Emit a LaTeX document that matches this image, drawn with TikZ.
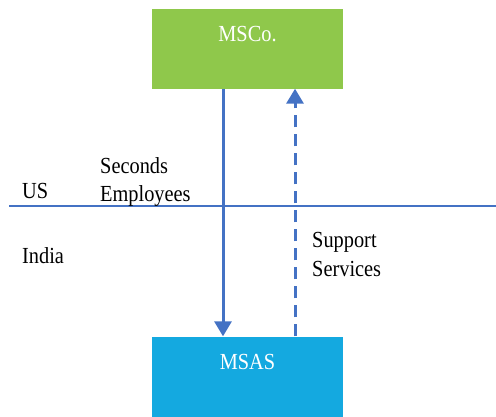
\documentclass[tikz,border=0pt]{standalone}
\usepackage{fontspec}
\setmainfont{Liberation Serif}
\newfontfamily\diagfont[FakeStretch=0.885]{Liberation Serif}
\usetikzlibrary{arrows.meta}
\definecolor{boxgreen}{HTML}{8FC84B}
\definecolor{boxblue}{HTML}{14A9E0}
\definecolor{linkblue}{HTML}{4472C4}
\begin{document}
\begin{tikzpicture}[x=1pt, y=-1pt, >={Triangle[width=17pt,length=15pt]}]
      \tikzstyle{entity}=[draw=none,shape=rectangle,minimum width=191pt,minimum height=80pt,
        inner sep=0pt,text=white,text height=14pt,text depth=28pt,
        font=\diagfont\fontsize{23}{28.7}\selectfont]
      \tikzstyle{lbl}=[inner sep=0pt,align=left,font=\diagfont\fontsize{23}{28.7}\selectfont]
      \tikzstyle{link}=[draw=linkblue,line width=3pt]
      \useasboundingbox (0,0) rectangle (496,416);

      % draw boxes
      \node [entity, fill=boxgreen] (msco) at (247.5,48.5) {MSCo.};
      \node [entity, fill=boxblue] (msas) at (247.5,376.5) {MSAS};

      % draw border
      \coordinate (border-w) at (9,206);
      \coordinate (border-e) at (496,206);
      \draw [linkblue, line width=1.5pt] (border-w) -- (border-e);

      % draw text
      \node [lbl, anchor=base west] (us) at (22,198) {US};
      \node [lbl, anchor=base west] (india) at (22,263) {India};
      \node [lbl, anchor=north west] (seconds) at (100,157) {Seconds\\Employees};
      \node [lbl, anchor=north west] (support) at (312,232) {Support\\Services};

      % draw lines
      \draw [link, ->] ([xshift=-24.5pt]msco.south) -- ([xshift=-24.5pt]msas.north);
      \draw [link, dash pattern=on 12pt off 7pt, ->] ([xshift=47.5pt]msas.north) -- ([xshift=47.5pt]msco.south);

\end{tikzpicture}
\end{document}
